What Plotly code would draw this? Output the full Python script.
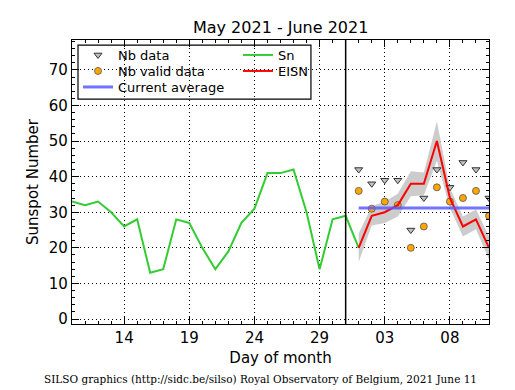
import plotly.graph_objects as go

# Day index: May 10 = 10 ... May 31 = 31, June 1 = 32 ... June 11 = 42
sn_days = list(range(10, 33))
sn_values = [33, 32, 33, 30, 26, 28, 13, 14, 28, 27, 20, 14, 19, 27, 31, 41, 41, 42, 30, 14, 28, 29, 20]

june_days = list(range(32, 43))
eisn_values = [20, 29, 30, 32, 38, 38, 50, 34, 26, 28, 20]
eisn_err = [4, 2.7, 3, 3.2, 3.5, 3.2, 5.5, 2.8, 2.8, 2.8, 3.2]
nb_data = [42, 38, 39, 39, 25, 34, 42, 37, 44, 42, 34]
nb_valid = [36, 31, 33, 32, 20, 26, 37, 33, 34, 36, 29]
current_average = 31.2
month_boundary = 31

tick_vals = [14, 19, 24, 29, 34, 39]
tick_text = ["14", "19", "24", "29", "03", "08"]
y_ticks = [0, 10, 20, 30, 40, 50, 60, 70]

upper = [v + e for v, e in zip(eisn_values, eisn_err)]
lower = [v - e for v, e in zip(eisn_values, eisn_err)]

fig = go.Figure()
fig.add_trace(go.Scatter(x=june_days, y=lower, mode="lines", line=dict(width=0, color="#cccccc"),
                         showlegend=False, hoverinfo="skip"))
fig.add_trace(go.Scatter(x=june_days, y=upper, mode="lines", line=dict(width=0, color="#cccccc"),
                         fill="tonexty", fillcolor="#cccccc", showlegend=False, hoverinfo="skip"))
fig.add_trace(go.Scatter(x=june_days, y=nb_data, mode="markers", name="Nb data",
                         marker=dict(symbol="triangle-down", size=7, color="#c0c0c0",
                                     line=dict(color="#333333", width=1)),
                         legend="legend"))
fig.add_trace(go.Scatter(x=june_days, y=nb_valid, mode="markers", name="Nb valid data",
                         marker=dict(symbol="circle", size=7, color="orange",
                                     line=dict(color="#555555", width=0.8)),
                         legend="legend2"))
fig.add_trace(go.Scatter(x=sn_days, y=sn_values, mode="lines", name="Sn",
                         line=dict(color="#33cc33", width=2), legend="legend4"))
fig.add_trace(go.Scatter(x=june_days, y=eisn_values, mode="lines", name="EISN",
                         line=dict(color="red", width=2), legend="legend5"))
fig.add_trace(go.Scatter(x=[june_days[0], june_days[-1]], y=[current_average] * 2, mode="lines",
                         name="Current average", line=dict(color="rgba(90,90,255,0.85)", width=3),
                         legend="legend3"))

fig.add_shape(type="line", xref="x", yref="paper", x0=month_boundary, x1=month_boundary, y0=0, y1=1,
              line=dict(color="black", width=1.5))
fig.add_shape(type="rect", xref="paper", yref="paper", x0=0.0144, x1=0.573, y0=0.792, y1=0.982,
              line=dict(color="black", width=1.2), fillcolor="rgba(0,0,0,0)")

axis_common = dict(showline=True, linecolor="black", linewidth=1.2, mirror="allticks",
                   ticks="inside", ticklen=7, tickcolor="black",
                   showgrid=True, gridcolor="black", gridwidth=0.8, griddash="1px,3px",
                   zeroline=False, tickfont=dict(size=15, color="black"))

fig.update_xaxes(range=[10, 42], tickvals=tick_vals, ticktext=tick_text,
                 title=dict(text="Day of month", font=dict(size=15, color="black"), standoff=6),
                 minor=dict(dtick=1, tick0=10, ticks="inside", ticklen=3, tickcolor="black", showgrid=False),
                 **axis_common)
fig.update_yaxes(range=[-1.4, 78.4], tickvals=y_ticks,
                 title=dict(text="Sunspot Number", font=dict(size=15, color="black"), standoff=6),
                 minor=dict(dtick=2, tick0=0, ticks="inside", ticklen=3, tickcolor="black", showgrid=False),
                 **axis_common)


def leg(xp, yp):
    return dict(x=xp, y=yp, xanchor="left", yanchor="top", bgcolor="rgba(0,0,0,0)",
                borderwidth=0, font=dict(size=13, color="black"))


left_x = 0.0144
right_x = 0.398
fig.update_layout(
    width=515, height=390,
    margin=dict(l=72, r=26, t=40, b=66),
    paper_bgcolor="white", plot_bgcolor="white",
    font=dict(family="DejaVu Sans", color="black"),
    title=dict(text="May 2021 - June 2021", x=0.545, xanchor="center", y=1 - 27 / 390, yanchor="middle",
               font=dict(size=16, color="black")),
    legend=leg(left_x, 1.0),
    legend2=leg(left_x, 0.9437),
    legend3=leg(left_x, 0.8873),
    legend4=leg(right_x, 1.0),
    legend5=leg(right_x, 0.9437),
    showlegend=True,
)
fig.add_annotation(text="SILSO graphics (http://sidc.be/silso) Royal Observatory of Belgium, 2021 June 11",
                   xref="paper", yref="paper", x=0.453, y=-0.194, xanchor="center", yanchor="middle",
                   showarrow=False, font=dict(family="DejaVu Serif", size=10.5, color="black"))

fig.write_html("out.html", config={"displayModeBar": False},
               post_script="document.body.style.margin='0';")
